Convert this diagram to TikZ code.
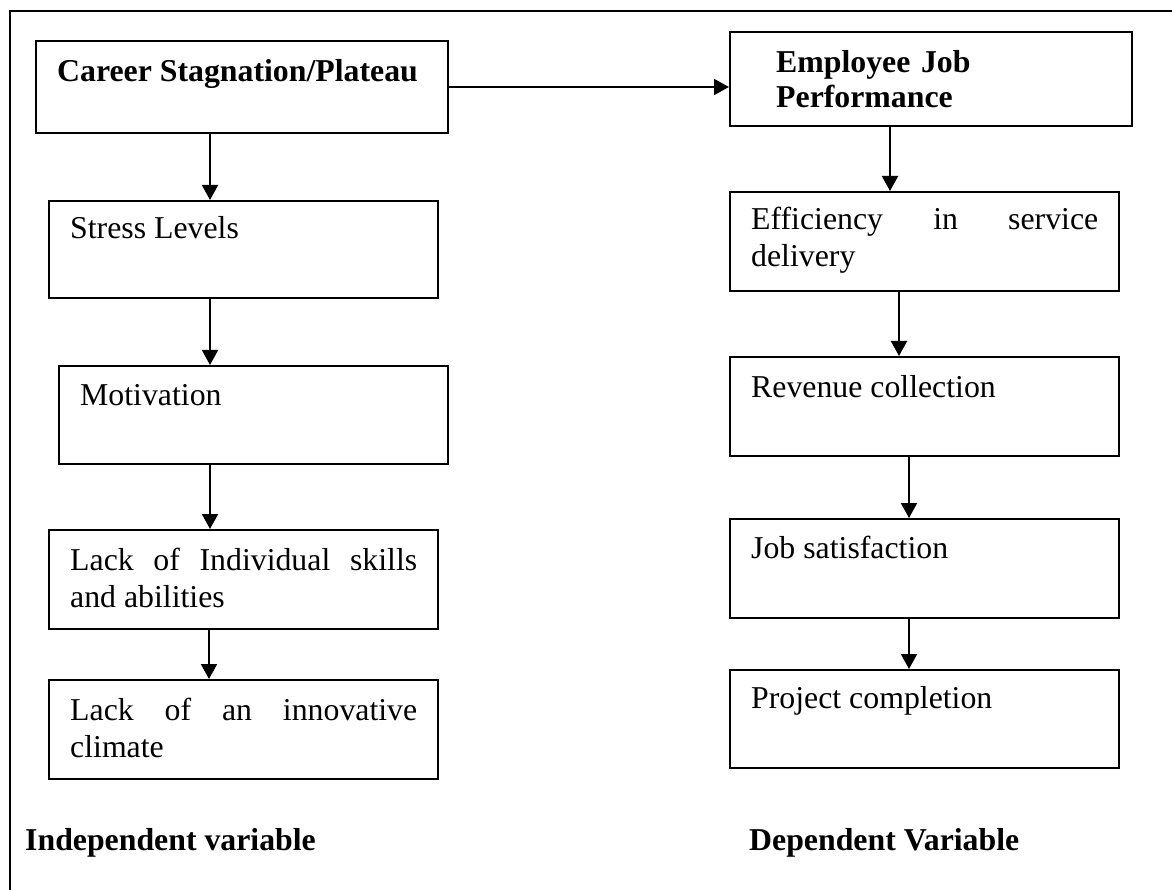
\documentclass[tikz,border=0pt]{standalone}
\usepackage{fontspec}
\setmainfont{Liberation Serif}
\usetikzlibrary{arrows.meta}
\hyphenpenalty=10000
\exhyphenpenalty=10000
\tolerance=10000
\begin{document}
\begin{tikzpicture}[x=1pt,y=-1pt,
  every node/.style={font=\fontsize{31.8pt}{37pt}\selectfont},
  box/.style={draw,line width=2pt,inner sep=0pt,rectangle},
  lbl/.style={anchor=base west,inner sep=0pt},
  jlbl/.style={anchor=base west,inner sep=0pt,text width=347pt,align=justify},
  arr/.style={line width=2pt,-{Triangle[length=15pt,width=16pt]}},
  frame/.style={line width=2.5pt}]
\useasboundingbox (0,0) rectangle (1172,890);
% frame (open on right and bottom)
\coordinate (ftr) at (1172,11);
\coordinate (ftl) at (10,11);
\coordinate (fbl) at (10,890);
\draw[frame] (ftr) -- (ftl) -- (fbl);
% boxes, left column
\node[box,minimum width=412pt,minimum height=92pt] (career) at (242,87) {};
\node[box,minimum width=389pt,minimum height=97pt] (stress) at (243.5,249.5) {};
\node[box,minimum width=389pt,minimum height=98pt] (motiv) at (253.5,415) {};
\node[box,minimum width=389pt,minimum height=99pt] (skills) at (243.5,579.5) {};
\node[box,minimum width=389pt,minimum height=99pt] (innov) at (243.5,729.5) {};
% boxes, right column
\node[box,minimum width=402pt,minimum height=94pt] (ejp) at (931,79) {};
\node[box,minimum width=389pt,minimum height=99pt] (eff) at (924.5,241.5) {};
\node[box,minimum width=389pt,minimum height=99pt] (rev) at (924.5,406.5) {};
\node[box,minimum width=389pt,minimum height=99pt] (job) at (924.5,568.5) {};
\node[box,minimum width=389pt,minimum height=98pt] (proj) at (924.5,719) {};
% texts
\node[lbl] (tcareer) at (57,82) {\textbf{Career Stagnation/Plateau}};
\node[lbl] (tstress) at (70,239) {Stress Levels};
\node[lbl] (tmotiv) at (80,405) {Motivation};
\node[jlbl] (tskills) at (70,570) {Lack of Individual skills and abilities};
\node[jlbl] (tinnov) at (70,720) {Lack of an innovative climate};
\node[anchor=base west,inner sep=0pt,text width=340pt,align=left,font=\fontsize{31.8pt}{35pt}\selectfont\bfseries] (tejp) at (776,73) {\mbox{Employee Job}\\\mbox{Performance}};
\node[jlbl] (teff) at (751,230) {Efficiency in service delivery};
\node[lbl] (trev) at (751,397) {Revenue collection};
\node[lbl] (tjob) at (751,558) {Job satisfaction};
\node[lbl] (tproj) at (751,708) {Project completion};
\node[lbl] (tindep) at (25,850) {\textbf{Independent variable}};
\node[lbl] (tdep) at (749,850) {\textbf{Dependent Variable}};
% arrow columns
\coordinate (c1) at (210,0);
\coordinate (c2) at (209,0);
\coordinate (c3) at (890,0);
\coordinate (c4) at (899,0);
\coordinate (c5) at (909,0);
% connectors
\draw[arr] (career.east) -- (career.east -| ejp.west);
\draw[arr] (career.south -| c1) -- (stress.north -| c1);
\draw[arr] (stress.south -| c1) -- (motiv.north -| c1);
\draw[arr] (motiv.south -| c1) -- (skills.north -| c1);
\draw[arr] (skills.south -| c2) -- (innov.north -| c2);
\draw[arr] (ejp.south -| c3) -- (eff.north -| c3);
\draw[arr] (eff.south -| c4) -- (rev.north -| c4);
\draw[arr] (rev.south -| c5) -- (job.north -| c5);
\draw[arr] (job.south -| c5) -- (proj.north -| c5);
\end{tikzpicture}
\end{document}
